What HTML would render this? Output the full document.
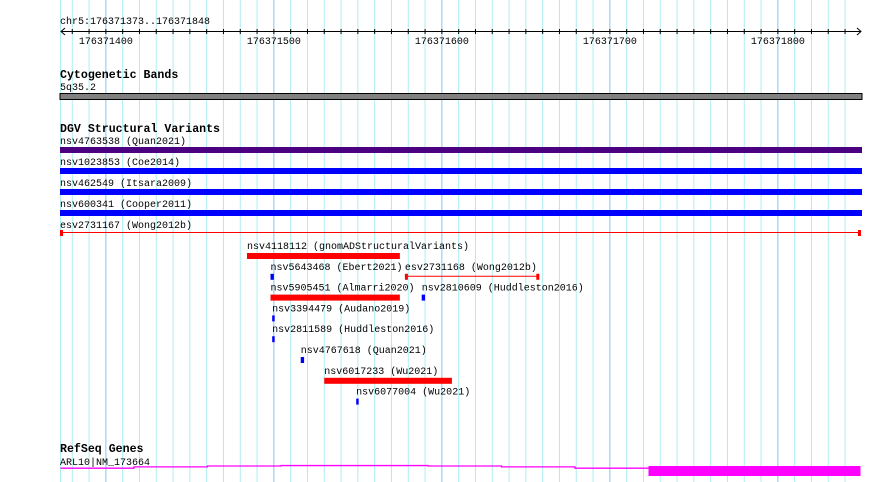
<!DOCTYPE html>
<html><head><meta charset="utf-8"><style>
body{margin:0;background:#fff}
svg{display:block}
text{font-family:"Liberation Mono",monospace;font-size:10px;fill:#000}
.t{font-weight:bold;font-size:11.6px}
</style></head><body>
<svg id="c" width="890" height="482" xmlns="http://www.w3.org/2000/svg"></svg>
<script>
const START=176371373, END=176371848;
const tickLabels=[176371400,176371500,176371600,176371700,176371800];
const fullNames=["nsv4763538 (Quan2021)","nsv1023853 (Coe2014)","nsv462549 (Itsara2009)","nsv600341 (Cooper2011)"];
const fullColors=["#4b0082","#0000ff","#0000ff","#0000ff"];
const featNames=["nsv4118112 (gnomADStructuralVariants)","nsv5643468 (Ebert2021)","esv2731168 (Wong2012b)","nsv5905451 (Almarri2020)","nsv2810609 (Huddleston2016)","nsv3394479 (Audano2019)","nsv2811589 (Huddleston2016)","nsv4767618 (Quan2021)","nsv6017233 (Wu2021)","nsv6077004 (Wu2021)"];
const featStart=[176371484,176371498,176371578,176371498,176371588,176371499,176371499,176371516,176371530,176371549];
const featEnd=[176371575,176371500,176371658,176371575,176371590,176371500,176371500,176371518,176371606,176371550];
const featRow=[0,1,1,2,2,3,4,5,6,7];
const featType=["bar","bar","line","bar","bar","bar","bar","bar","bar","bar"];
const featColor=["#ff0000","#0000ff","#ff0000","#ff0000","#0000ff","#0000ff","#0000ff","#0000ff","#ff0000","#0000ff"];
const geneStart=176371373, geneCdsStart=176371723, geneEnd=176371848;

const S=1.68, X0=60.5;
function x(bp){return X0+(bp-START)*S;}
const svg=document.getElementById('c');
const NS="http://www.w3.org/2000/svg";
function mk(tag,a,txt){const e=document.createElementNS(NS,tag);for(const k in a)e.setAttribute(k,a[k]);if(txt!=null)e.textContent=txt;svg.appendChild(e);return e;}

for(let bp=Math.ceil(START/10)*10;bp<=END;bp+=10){
  const major=bp%100===0;
  const g=mk('line',{x1:x(bp),x2:x(bp),y1:0,y2:482,stroke:major?'#80c8f0':'#aeeef2','stroke-width':1});
  
  
}
const gl=mk('line',{x1:60.5,x2:60.5,y1:0,y2:482,stroke:'#aeeef2'});



let t=mk('text',{x:60,y:24},"chr5:176371373..176371848");


let ax=mk('line',{x1:61,x2:861,y1:31.5,y2:31.5,stroke:'#000'});


mk('polyline',{points:'65,28 61,31.5 65,35',fill:'none',stroke:'#000'});
mk('polyline',{points:'857,28 861,31.5 857,35',fill:'none',stroke:'#000'});
for(let bp=Math.ceil(START/10)*10;bp<=END;bp+=10){
  const tk=mk('line',{x1:x(bp),x2:x(bp),y1:29,y2:34,stroke:'#000'});
  
  
}
tickLabels.forEach(v=>{
  const l=mk('text',{x:x(v),y:44,'text-anchor':'middle'},String(v));
  
  
});

t=mk('text',{x:60,y:78,class:'t'},"Cytogenetic Bands");


t=mk('text',{x:60,y:90},"5q35.2");


let cb=mk('rect',{x:60,y:93.5,width:802,height:6,fill:'#808080',stroke:'#000','stroke-width':1});



t=mk('text',{x:60,y:132,class:'t'},"DGV Structural Variants");


fullNames.forEach((n,i)=>{
  const y=147+i*21;
  const l=mk('text',{x:60,y:y-3},n);
  
  
  const r=mk('rect',{x:60,y:y,width:802,height:6,fill:fullColors[i]});
  
  
});
t=mk('text',{x:60,y:228},"esv2731167 (Wong2012b)");


let el=mk('line',{x1:61,x2:860,y1:232.5,y2:232.5,stroke:'#ff0000'});


mk('rect',{x:60,y:230,width:3,height:6,fill:'#ff0000'});
mk('rect',{x:858,y:230,width:3,height:6,fill:'#ff0000'});

featNames.forEach((n,i)=>{
  const y=253+featRow[i]*20.8;
  const x1=x(featStart[i]), x2=Math.max(x(featEnd[i]),x1+2.5);
  const l=mk('text',{x:x1,y:y-4},n);
  
  
  if(featType[i]==='line'){
    const g=mk('line',{x1:x1,x2:x2,y1:y+2.5,y2:y+2.5,stroke:featColor[i]});
    
    
    mk('rect',{x:x1,y:y,width:3,height:6,fill:featColor[i]});
    mk('rect',{x:x2-3,y:y,width:3,height:6,fill:featColor[i]});
  } else {
    const r=mk('rect',{x:x1,y:y,width:x2-x1,height:6,fill:featColor[i]});
    
    
  }
});

t=mk('text',{x:60,y:452,class:'t'},"RefSeq Genes");


t=mk('text',{x:60,y:465},"ARL10|NM_173664");


const gx1=x(geneStart), gx2=x(geneCdsStart);
const mid=(gx1+gx2)/2;
const pts=[];
for(let k=0;k<=8;k++){const a=gx1+(gx2-gx1)*k/8, b=gx1+(gx2-gx1)*(k+1)/8;const c=(a+b)/2;const d=Math.abs(c-mid)/(mid-gx1);const yy=465.5+3.5*d*d;pts.push(a+','+yy, b+','+yy);}
const intr=mk('polyline',{points:pts.slice(0,-2).join(' '),fill:'none',stroke:'#ff00ff','stroke-width':1.3});


const ex=mk('rect',{x:gx2,y:466,width:x(geneEnd)-gx2+2,height:10,fill:'#ff00ff'});


</script>
</body></html>
